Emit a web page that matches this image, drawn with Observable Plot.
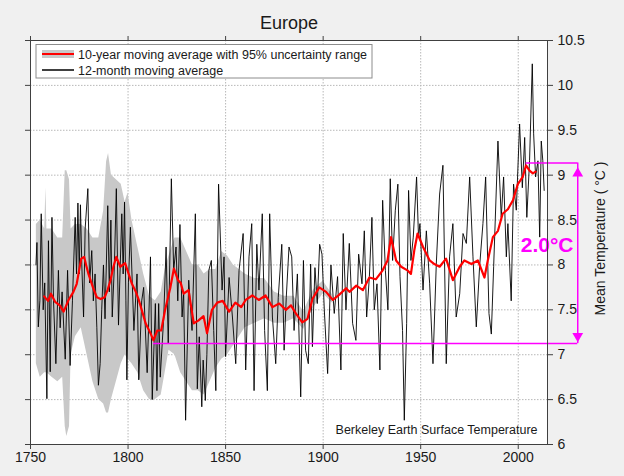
<!DOCTYPE html>
<html>
<head>
<meta charset="utf-8">
<script src="https://cdn.jsdelivr.net/npm/d3@7"></script>
<script src="https://cdn.jsdelivr.net/npm/@observablehq/plot@0.6"></script>
<style>
  html, body { margin: 0; padding: 0; background: #f0f0f0; }
  #chart { width: 624px; height: 476px; }
</style>
</head>
<body>
<div id="chart"></div>
<script>
// ---------- data ----------
const xTicks = [1750, 1800, 1850, 1900, 1950, 2000];
const yTicks = [6, 6.5, 7, 7.5, 8, 8.5, 9, 9.5, 10, 10.5];

// 12-month moving average (black)
const monthYears = [
  1752.8,1753.3,1754.0,1754.8,1755.5,1756.5,1757.3,1758.4,1759.2,1760.1,1761.0,1761.8,1763.0,1764.3,1765.2,1766.2,1767.8,1769.0,1770.3,1771.5,
  1772.9,1773.6,1774.3,1775.0,1775.6,1776.3,1777.2,1778.0,1779.4,1780.3,1781.4,1782.2,1783.1,1784.0,1784.8,1785.7,1786.5,1787.4,1788.2,1789.6,
  1790.4,1791.2,1791.9,1793.0,1794.0,1795.1,1796.0,1796.8,1797.5,1798.2,1798.9,1799.4,1800.2,1801.2,1803.0,1804.6,1805.5,1807.0,1808.0,1809.8,
  1810.5,1811.5,1812.4,1814.0,1814.8,1815.7,1816.5,1818.3,1819.5,1820.6,1822.2,1823.4,1824.6,1825.5,1826.6,1827.7,1828.5,1829.5,1831.1,1832.8,
  1834.5,1835.5,1836.5,1837.8,1838.5,1839.6,1840.4,1841.4,1842.7,1843.9,1845.0,1846.4,1848.2,1849.2,1850.0,1851.8,1853.5,1855.2,1856.9,1859.0,
  1860.3,1862.0,1863.4,1864.6,1866.0,1867.1,1868.8,1870.0,1871.4,1872.6,1874.0,1875.7,1877.0,1878.8,1880.0,1881.1,1882.5,1883.9,1885.1,1886.8,
  1888.5,1889.9,1891.0,1892.4,1893.6,1894.5,1895.8,1897.0,1898.2,1899.4,1900.6,1902.3,1904.0,1905.7,1907.4,1909.1,1910.3,1911.7,1913.4,1915.1,
  1916.8,1918.2,1919.9,1921.1,1922.3,1923.7,1925.0,1926.2,1927.6,1929.1,1930.5,1931.9,1933.2,1934.4,1935.6,1937.0,1938.3,1939.4,1940.7,1941.6,
  1942.8,1943.8,1945.0,1946.2,1947.9,1948.9,1949.6,1951.2,1952.9,1954.6,1956.3,1958.0,1959.7,1961.4,1963.1,1964.8,1966.5,1968.2,1970.0,1971.7,
  1973.4,1975.1,1976.8,1978.5,1980.2,1981.9,1983.3,1985.0,1986.2,1987.4,1989.6,1991.3,1992.5,1993.9,1994.7,1996.4,1997.6,1999.0,2000.7,2002.1,
  2003.3,2004.4,2005.8,2007.2,2007.9,2008.9,2010.1,2011.0,2011.8,2012.6,2013.3
];
const monthTemps = [
  8.00,8.25,7.31,7.60,8.57,7.50,7.80,6.51,8.27,6.81,8.53,7.60,6.90,7.94,7.30,7.70,6.95,7.94,6.88,7.60,
  8.53,7.90,8.69,7.90,8.67,8.00,7.42,8.40,8.85,7.80,8.16,7.60,7.90,7.30,6.66,6.90,7.50,8.00,7.40,8.66,
  7.70,8.50,7.42,8.00,8.85,7.33,8.00,8.57,7.90,8.70,7.60,6.72,7.80,8.42,7.27,7.90,6.72,7.60,7.75,6.80,
  7.30,8.09,6.50,7.57,6.60,7.57,6.75,7.42,8.20,7.12,8.96,7.94,8.20,7.60,8.45,7.42,7.70,6.27,7.83,7.27,
  8.57,6.62,7.20,6.42,6.94,6.49,7.00,7.94,8.05,7.27,6.60,8.90,7.72,8.09,6.98,7.86,7.42,6.90,7.94,8.35,
  6.83,8.09,8.46,6.60,8.23,7.72,8.57,7.27,6.60,8.57,7.42,6.90,7.64,8.23,7.05,7.64,8.20,8.09,7.27,7.90,
  6.53,8.05,7.05,6.90,8.01,7.09,7.97,7.57,8.23,8.12,7.50,6.79,8.00,7.46,7.87,6.83,8.35,7.50,8.24,7.35,
  7.16,8.12,7.79,8.38,7.42,7.87,8.53,7.50,7.79,6.83,8.72,7.94,7.50,8.96,8.05,8.61,8.90,7.87,7.27,6.27,
  7.35,8.83,8.05,8.31,8.98,8.30,8.46,7.72,8.38,7.79,6.90,8.01,8.79,9.11,6.90,8.09,8.46,7.42,7.68,8.35,
  8.24,8.98,8.09,7.31,7.98,8.46,8.98,7.46,7.23,7.98,9.38,8.53,8.98,8.09,8.46,7.60,8.90,8.61,9.57,8.86,
  9.42,8.53,9.16,10.24,9.46,8.98,9.16,8.31,9.38,9.16,8.83
];

// 10-year moving average (red)
const decadeYears = [
  1757,1759,1760.5,1762.6,1765,1767,1769.5,1772,1773.7,1775,1776,1777.5,1778.5,1779.7,1782,1784,1786,1788,1789.5,1791,
  1792.5,1794,1796,1798.5,1800,1802,1804,1805.5,1807,1809,1811.5,1813,1815,1817,1819,1821.7,1823.5,1825.6,1827,1828.5,
  1831,1833.7,1836,1838.7,1840.5,1843,1845.7,1848.5,1851.8,1855,1858,1860.3,1863.7,1867,1870.5,1874,1877.5,1880.9,1883.5,1886,
  1889.3,1892,1894.5,1898,1901.5,1905,1908.3,1911.8,1913.5,1917,1920.4,1923.7,1927,1930.5,1933,1934.8,1937.4,1940,1943.2,1945,
  1946.7,1948.4,1951.2,1954.6,1957,1959.7,1963,1966.5,1970,1972.4,1976,1979.3,1982.7,1984.4,1987,1989.6,1992,1994.7,1997.3,1999.8,
  2002.3,2004,2005.8,2007.5,2008.9
];
const decadeTemps = [
  7.65,7.60,7.68,7.59,7.55,7.48,7.61,7.70,7.79,7.95,8.07,8.09,8.00,7.90,7.75,7.64,7.62,7.64,7.72,7.83,
  7.98,8.09,7.98,8.02,7.92,7.79,7.70,7.61,7.50,7.35,7.24,7.16,7.27,7.27,7.50,7.75,7.96,7.83,7.80,7.68,
  7.72,7.35,7.38,7.43,7.24,7.50,7.58,7.60,7.48,7.58,7.53,7.61,7.66,7.61,7.66,7.53,7.57,7.50,7.55,7.46,
  7.36,7.40,7.62,7.75,7.70,7.61,7.67,7.74,7.70,7.77,7.72,7.86,7.84,7.94,8.05,8.31,8.05,7.98,7.94,7.90,
  8.16,8.35,8.20,8.05,8.01,7.98,8.07,7.83,7.98,8.05,8.01,8.05,7.86,8.05,8.31,8.38,8.57,8.62,8.72,8.90,
  8.98,9.11,9.05,9.02,9.04
];

// 95% uncertainty range (grey)
const bandYears = [
  1753,1755,1757.3,1757.9,1758.4,1761,1764,1766.5,1767.8,1768.6,1770,1770.8,1773,1776,1779,1782,1785,1787.5,1789,1790,
  1791.5,1794,1796.5,1798.5,1800,1802,1805,1808,1811,1814,1817,1819,1821,1824,1827,1830,1833,1836,1839,1842,
  1845,1848,1851,1854,1857,1860,1865,1870,1875,1880,1885,1890,1895,1900,1905
];
const bandLow = [
  6.90,6.75,6.80,6.80,6.80,6.75,6.70,6.75,6.20,6.09,6.20,7.00,7.20,7.30,7.00,6.70,6.50,6.45,6.35,6.35,
  6.50,6.70,6.90,7.00,6.95,6.90,6.80,6.60,6.50,6.50,6.55,6.80,7.05,7.00,6.80,6.70,6.60,6.60,6.55,6.70,
  6.85,6.95,7.00,7.10,7.20,7.30,7.35,7.40,7.35,7.35,7.40,7.28,7.52,7.68,7.57
];
const bandHigh = [
  8.45,8.50,8.40,8.86,8.40,8.40,8.30,8.30,9.05,9.05,8.95,8.40,8.45,8.45,8.40,8.30,8.30,8.60,9.15,9.24,
  9.00,8.95,8.90,8.70,8.80,8.50,8.20,7.90,7.65,7.60,7.70,7.95,8.10,8.30,8.30,8.15,8.00,8.00,7.90,7.95,
  7.95,8.15,8.10,8.00,7.95,7.90,7.85,7.85,7.70,7.65,7.65,7.48,7.72,7.82,7.66
];

// 2.0 °C annotation: lowest and highest decade values, and the arrow's year
const annoYears = [1813, 2004];
const annoTemps = [7.124, 9.136];
const arrowYear = 2030.5;

// ---------- tables ----------
const monthly = monthYears.map((x, i) => ({x, y: monthTemps[i]}));
const decade = decadeYears.map((x, i) => ({x, y: decadeTemps[i]}));
const band = bandYears.map((x, i) => ({x, lo: bandLow[i], hi: bandHigh[i]}));
const diffLabel = (annoTemps[1] - annoTemps[0]).toFixed(1) + "°C";
const MAG = "#ff00ff";
const FONT = "'Liberation Sans', Arial, Helvetica, sans-serif";

const svg = Plot.plot({
  width: 624,
  height: 476,
  marginLeft: 30,
  marginRight: 77,
  marginTop: 40,
  marginBottom: 32,
  style: {background: "#f0f0f0", fontFamily: FONT, fontSize: "14px", color: "#1a1a1a", overflow: "visible"},
  x: {domain: [1750, 2015]},
  y: {domain: [6, 10.5]},
  marks: [
    Plot.frame({fill: "white", stroke: null}),
    Plot.gridX(xTicks, {stroke: "#b8b8b8", strokeOpacity: 1, strokeDasharray: "1.5,1.5"}),
    Plot.gridY(yTicks, {stroke: "#b8b8b8", strokeOpacity: 1, strokeDasharray: "1.5,1.5"}),
    Plot.areaY(band, {x: "x", y1: "lo", y2: "hi", fill: "#c8c8c8", fillOpacity: 1}),
    Plot.line(monthly, {x: "x", y: "y", stroke: "#000", strokeWidth: 0.9}),
    Plot.line(decade, {x: "x", y: "y", stroke: "#ff0000", strokeWidth: 2.2}),
    // annotation
    Plot.ruleY([0, 1], {y: i => annoTemps[i], x1: i => annoYears[i], x2: () => arrowYear, stroke: MAG, strokeWidth: 1.5}),
    Plot.ruleX([arrowYear], {y1: () => annoTemps[0], y2: () => annoTemps[1], stroke: MAG, strokeWidth: 1.5}),
    Plot.dot([arrowYear], {x: d => d, y: () => annoTemps[1], symbol: "triangle", r: 4, fill: MAG, stroke: null, dy: 10.5}),
    Plot.dot([arrowYear], {x: d => d, y: () => annoTemps[0], symbol: "triangle", r: 4, fill: MAG, stroke: null, rotate: 180, dy: -7.5}),
    Plot.text([diffLabel], {frameAnchor: "right", dx: 26, dy: 9, textAnchor: "end", lineAnchor: "bottom",
      fill: MAG, fontSize: 21, fontWeight: "bold"}),
    // frame and axes
    Plot.frame({stroke: "#404040", strokeWidth: 1}),
    Plot.axisX({anchor: "bottom", ticks: xTicks, tickSize: 5, tickPadding: 3, tickFormat: d => String(d), label: null, stroke: "#404040"}),
    Plot.axisX({anchor: "top", ticks: xTicks, tickSize: 5, tickFormat: () => "", label: null, stroke: "#404040"}),
    Plot.axisY({anchor: "right", ticks: yTicks, tickSize: 5, tickPadding: 5, tickFormat: d => String(d), label: null, stroke: "#404040"}),
    Plot.axisY({anchor: "left", ticks: yTicks, tickSize: 5, tickFormat: () => "", label: null, stroke: "#404040"}),
    Plot.text(["Mean Temperature ( °C )"], {frameAnchor: "right", dx: 53, dy: -4, rotate: -90, fontSize: 14, lineAnchor: "middle", textAnchor: "middle"}),
    Plot.text(["Europe"], {frameAnchor: "top", dy: -12, fontSize: 18, lineAnchor: "bottom"}),
    Plot.text(["Berkeley Earth Surface Temperature"], {frameAnchor: "bottom-right", dx: -10, dy: -11, textAnchor: "end", lineAnchor: "bottom", fontSize: 12.5})
  ]
});

// legend box (drawn into the same svg)
const leg = d3.select(svg).append("g").attr("font-family", FONT).attr("font-size", 12.5)
  .attr("fill", "#1a1a1a").attr("text-anchor", "start");
leg.append("rect").attr("x", 36).attr("y", 44.5).attr("width", 336).attr("height", 33.5)
  .attr("fill", "white").attr("stroke", "#8c8c8c").attr("stroke-width", 1);
leg.append("line").attr("x1", 42).attr("x2", 74).attr("y1", 54).attr("y2", 54).attr("stroke", "#c8c8c8").attr("stroke-width", 8);
leg.append("line").attr("x1", 42).attr("x2", 74).attr("y1", 54).attr("y2", 54).attr("stroke", "#ff0000").attr("stroke-width", 2);
leg.append("line").attr("x1", 42).attr("x2", 74).attr("y1", 70).attr("y2", 70).attr("stroke", "#000").attr("stroke-width", 1.5);
leg.append("text").attr("x", 78).attr("y", 58.5).attr("text-anchor", "start").text("10-year moving average with 95% uncertainty range");
leg.append("text").attr("x", 78).attr("y", 74.5).attr("text-anchor", "start").text("12-month moving average");

document.getElementById("chart").appendChild(svg);
</script>
</body>
</html>
